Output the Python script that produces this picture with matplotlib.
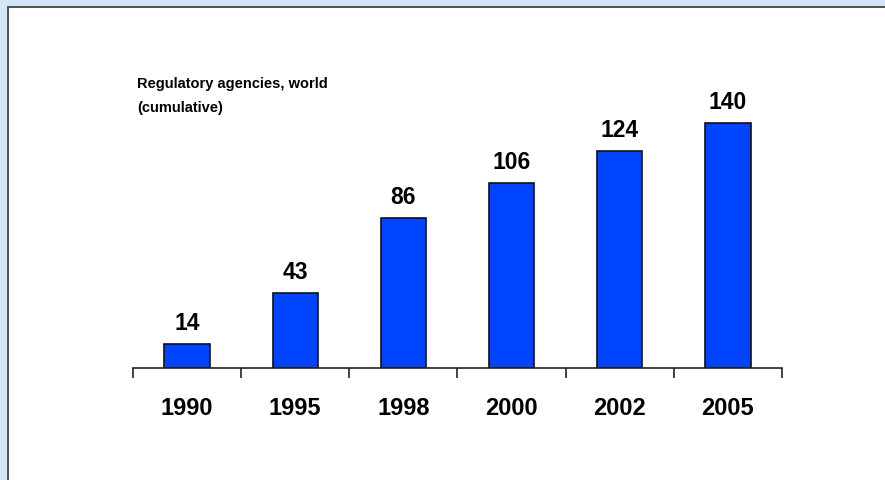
import matplotlib
matplotlib.use("Agg")
import matplotlib.pyplot as plt
from matplotlib.patches import Rectangle

years = ["1990", "1995", "1998", "2000", "2002", "2005"]
agencies = [14, 43, 86, 106, 124, 140]
title_lines = ["Regulatory agencies, world", "(cumulative)"]

W, H = 885, 481
fig = plt.figure(figsize=(W / 100, H / 100), dpi=100)
fig.patch.set_facecolor("white")

font = ["Liberation Sans", "DejaVu Sans"]

# window frame: pale blue band with a dark inner edge along top and left
band = "#d5e5f8"
edge = "#555555"
fig.add_artist(Rectangle((0, 1 - 7 / H), 1, 7 / H, transform=fig.transFigure,
                         facecolor=band, edgecolor="none", zorder=0))
fig.add_artist(Rectangle((0, 0), 7 / W, 1, transform=fig.transFigure,
                         facecolor=band, edgecolor="none", zorder=0))
fig.add_artist(Rectangle((7 / W, 1 - 9 / H), 1, 2 / H, transform=fig.transFigure,
                         facecolor=edge, edgecolor="none", zorder=1))
fig.add_artist(Rectangle((7 / W, 0), 2 / W, 1 - 7 / H, transform=fig.transFigure,
                         facecolor=edge, edgecolor="none", zorder=1))

# plot area: baseline at y=369 px, spanning x=133..782 px
ymax = 150
px_per_unit = 1.75
left, right = 133 / W, 782 / W
bottom = (H - 369) / H
height = ymax * px_per_unit / H
ax = fig.add_axes([left, bottom, right - left, height])

x = list(range(len(years)))
ax.bar(x, agencies, width=0.42, color="#0044ff", edgecolor="#111111",
       linewidth=1.2, zorder=2)

for xi, v in zip(x, agencies):
    ax.annotate(str(v), (xi, v), xytext=(0, 7), textcoords="offset points",
                ha="center", va="bottom", fontsize=16.5, fontweight="bold",
                family=font, color="black")

ax.set_xlim(-0.5, len(years) - 0.5)
ax.set_ylim(0, ymax)

for s in ["top", "right", "left"]:
    ax.spines[s].set_visible(False)
ax.spines["bottom"].set_color("#222222")
ax.spines["bottom"].set_linewidth(1.2)
ax.set_yticks([])

# category boundary ticks pointing down
ax.set_xticks([i - 0.5 for i in range(len(years) + 1)])
ax.set_xticklabels([])
ax.tick_params(axis="x", direction="out", length=7, width=1.2, color="#222222")
label_y = -28 / (ymax * px_per_unit)
for xi, yr in zip(x, years):
    ax.text(xi, label_y, yr, transform=ax.get_xaxis_transform(),
            ha="center", va="top", fontsize=17, fontweight="bold",
            family=font, color="black")

fig.text(137 / W, 1 - 88 / H, title_lines[0], ha="left", va="baseline",
         fontsize=10.5, fontweight="bold", family=font, color="black")
fig.text(137 / W, 1 - 112 / H, title_lines[1], ha="left", va="baseline",
         fontsize=10.5, fontweight="bold", family=font, color="black")

fig.savefig("out.png", dpi=100, facecolor=fig.get_facecolor())
